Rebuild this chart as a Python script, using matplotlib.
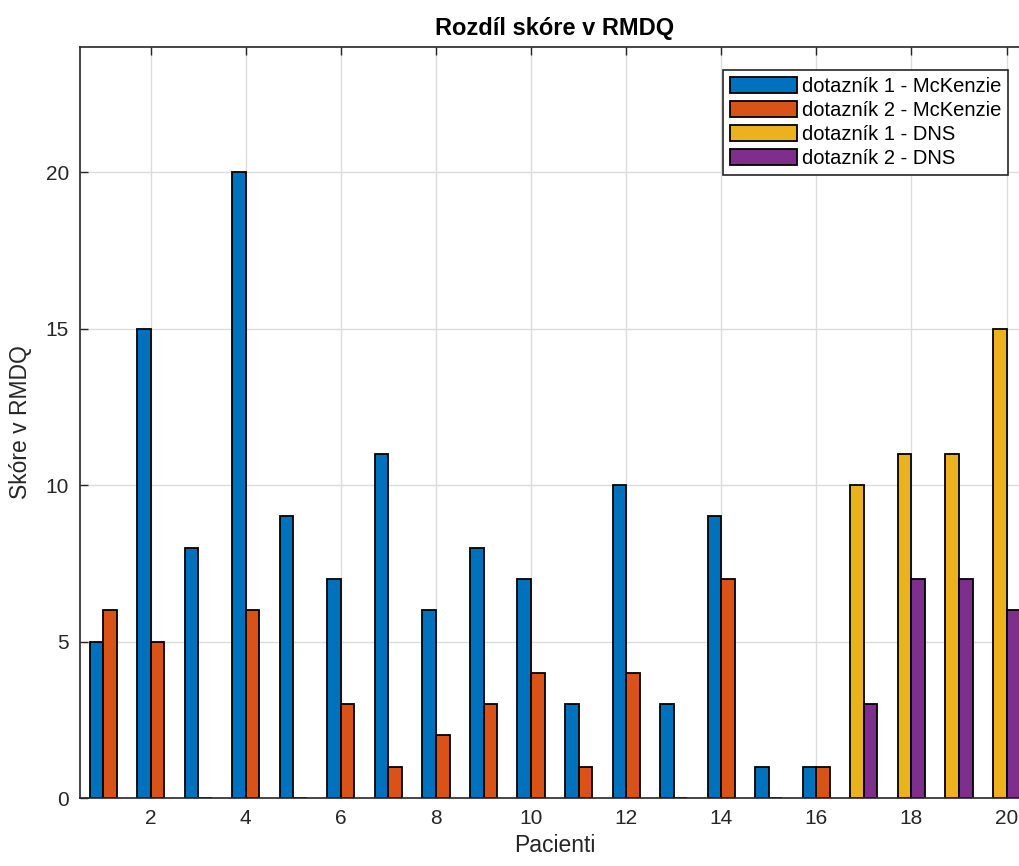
import numpy as np
import matplotlib
matplotlib.use('Agg')
import matplotlib.pyplot as plt

plt.rcParams['font.family'] = ['Liberation Sans', 'DejaVu Sans']

# data
pacienti = np.arange(1, 21)
dotaznik1 = [5, 15, 8, 20, 9, 7, 11, 6, 8, 7, 3, 10, 3, 9, 1, 1, 10, 11, 11, 15]
dotaznik2 = [6, 5, 0, 6, 0, 3, 1, 2, 3, 4, 1, 4, 0, 7, 0, 1, 3, 7, 7, 6]
n_mckenzie = 16  # patients 1-16 McKenzie, 17-20 DNS

labels = ['dotazník 1 - McKenzie', 'dotazník 2 - McKenzie',
          'dotazník 1 - DNS', 'dotazník 2 - DNS']
colors = ['#0072BD', '#D95319', '#EDB120', '#7E2F8E']

W, H = 1019, 866
fig = plt.figure(figsize=(W / 100, H / 100), dpi=100)
# axes runs past the right edge, like the cropped original
x0, x1 = 0.514, 20.486
ax = fig.add_axes([80 / W, 68 / H, (x1 - x0) * 47.55 / W, 751 / H])

bw = 0.2857
off = 0.1429
m = slice(0, n_mckenzie)
d = slice(n_mckenzie, None)
x = pacienti
d1 = np.array(dotaznik1)
d2 = np.array(dotaznik2)
kw = dict(width=bw, edgecolor='black', linewidth=1.3, zorder=3)
ax.bar(x[m] - off, d1[m], color=colors[0], label=labels[0], **kw)
ax.bar(x[m] + off, d2[m], color=colors[1], label=labels[1], **kw)
ax.bar(x[d] - off, d1[d], color=colors[2], label=labels[2], **kw)
ax.bar(x[d] + off, d2[d], color=colors[3], label=labels[3], **kw)

ax.set_xlim(x0, x1)
ax.set_ylim(0, 24)
ax.set_xticks(np.arange(2, 21, 2))
ax.set_yticks([0, 5, 10, 15, 20])
ax.grid(True, color='#dcdcdc', linewidth=1.0, zorder=0)
ax.set_axisbelow(True)
ax.tick_params(direction='in', length=6, width=1.0, top=True, right=True,
               labelsize=15, colors='#262626', pad=8)
for s in ax.spines.values():
    s.set_color('#262626')
    s.set_linewidth(1.2)
    s.set_zorder(4)

ax.set_xlabel('Pacienti', fontsize=16.5, color='#262626', labelpad=4)
ax.set_ylabel('Skóre v RMDQ', fontsize=16.5, color='#262626', labelpad=10)
ax.set_title('Rozdíl skóre v RMDQ', fontsize=17, fontweight='bold', pad=9)

leg = ax.legend(loc='upper right', bbox_to_anchor=(1008 / W, 1 - 70 / H),
                bbox_transform=fig.transFigure, borderaxespad=0,
                fontsize=14.5, handlelength=3.3, handleheight=0.85,
                handletextpad=0.25, labelspacing=0.25, borderpad=0.35,
                fancybox=False, framealpha=1, edgecolor='#262626')
leg.get_frame().set_linewidth(1.2)

fig.savefig('out.png', dpi=100)
